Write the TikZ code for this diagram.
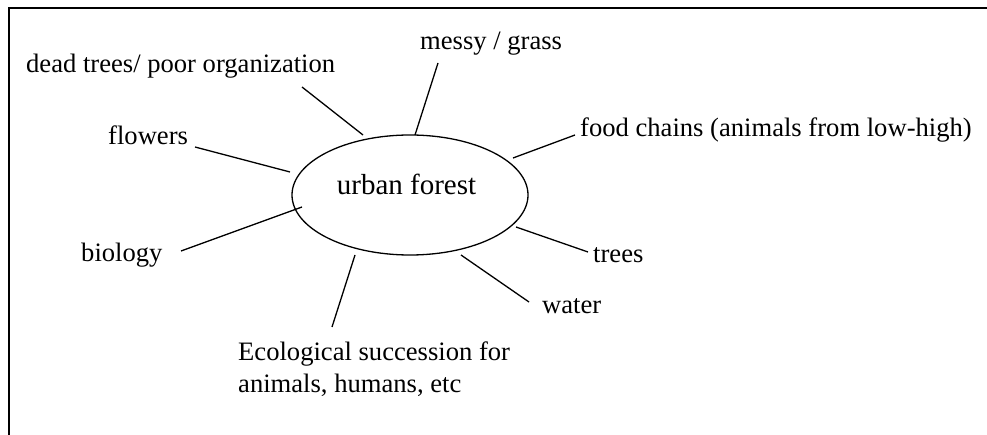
\documentclass[tikz,border=0pt]{standalone}
\usepackage{fontspec}
\setmainfont{Liberation Serif}
\usetikzlibrary{shapes.geometric}
\begin{document}
\begin{tikzpicture}[x=1pt,y=-1pt,
  lbl/.style={inner sep=0pt, font=\fontsize{26.6}{32}\selectfont},
  conn/.style={line width=1.3pt},
  frameline/.style={line width=1.8pt}]
\useasboundingbox (0,0) rectangle (987,435);
% frame
\coordinate (fbl) at (9,435);
\coordinate (ftl) at (9,8);
\coordinate (ftr) at (987,8);
\draw[frameline] (fbl) -- (ftl) -- (ftr);
% centre
\node[ellipse, draw, line width=1.3pt, minimum width=236, minimum height=120, inner sep=0pt] (uf) at (410,195) {};
\node[lbl, anchor=base, font=\fontsize{29}{34}\selectfont] (uftext) at (406.5,195) {urban forest};
% labels
\node[lbl, anchor=base west] (dead) at (26,73) {dead trees/ poor organization};
\node[lbl, anchor=base west] (flow) at (108,145) {flowers};
\node[lbl, anchor=base west] (messy) at (420,50) {messy / grass};
\node[lbl, anchor=base west] (food) at (580,137) {food chains (animals from low-high)};
\node[lbl, anchor=base west] (bio) at (81,262) {biology};
\node[lbl, anchor=base west] (trees) at (593,263) {trees};
\node[lbl, anchor=base west] (water) at (542,313) {water};
\node[lbl, anchor=base west, align=left] (eco) at (238,392) {Ecological succession for\\animals, humans, etc};
% connector ends
\coordinate (dead1) at (302,87);   \coordinate (dead2) at (363,135);
\coordinate (flow1) at (195,147);  \coordinate (flow2) at (290,172);
\coordinate (messy1) at (438,63);  \coordinate (messy2) at (415,135);
\coordinate (food1) at (575,135);  \coordinate (food2) at (513,158);
\coordinate (bio1) at (181,251);   \coordinate (bio2) at (302,207);
\coordinate (trees1) at (588,252); \coordinate (trees2) at (516,227);
\coordinate (water1) at (529,302); \coordinate (water2) at (461,255);
\coordinate (eco1) at (332,327);   \coordinate (eco2) at (355,255);
\draw[conn] (dead1) -- (dead2);
\draw[conn] (flow1) -- (flow2);
\draw[conn] (messy1) -- (messy2);
\draw[conn] (food1) -- (food2);
\draw[conn] (bio1) -- (bio2);
\draw[conn] (trees1) -- (trees2);
\draw[conn] (water1) -- (water2);
\draw[conn] (eco1) -- (eco2);
\end{tikzpicture}
\end{document}
